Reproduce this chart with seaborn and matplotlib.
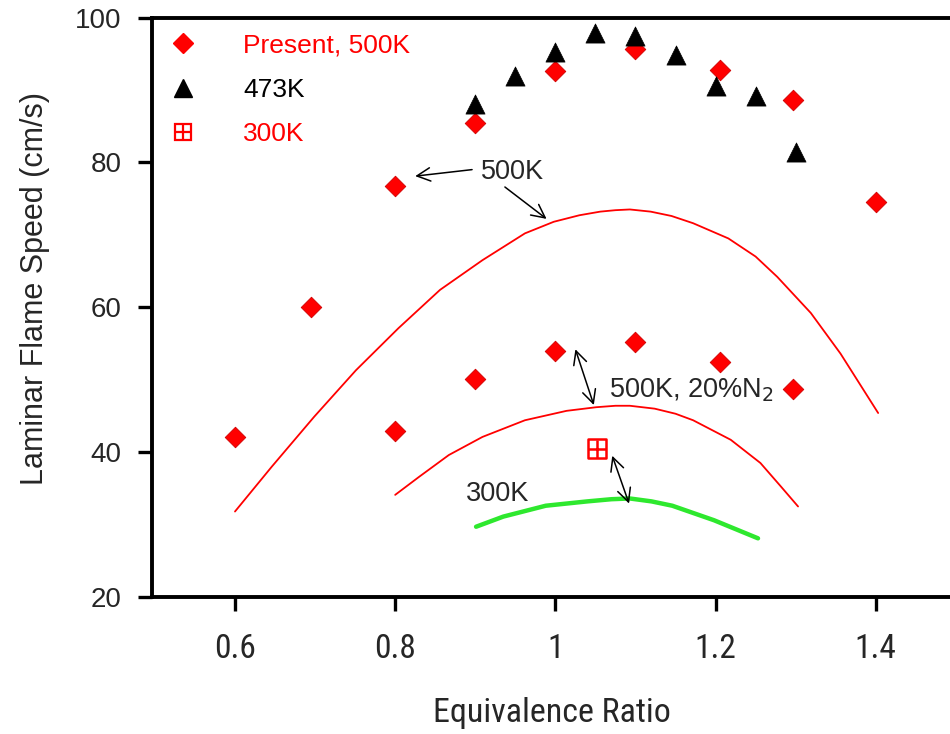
import matplotlib
matplotlib.use("Agg")
import matplotlib.pyplot as plt
from matplotlib import font_manager
from matplotlib.font_manager import FontProperties
from matplotlib.lines import Line2D
from matplotlib.legend_handler import HandlerTuple
import pandas as pd
import seaborn as sns

# ---- measured flame speeds ----
present_phi = [0.6, 0.695, 0.8, 0.8, 0.9, 0.9, 1.0, 1.0, 1.1, 1.1, 1.205, 1.205, 1.297, 1.297, 1.4]
present_su = [42.1, 60.0, 76.8, 42.9, 85.5, 50.1, 92.6, 53.9, 95.6, 55.2, 92.8, 52.5, 88.6, 48.7, 74.5]

t473_phi = [0.9, 0.95, 1.0, 1.05, 1.1, 1.15, 1.2, 1.25, 1.3]
t473_su = [88.1, 91.9, 95.3, 97.9, 97.4, 94.8, 90.6, 89.2, 81.5]

t300_phi = [1.052]
t300_su = [40.5]

# ---- computed curves ----
c500_phi = [0.600, 0.646, 0.699, 0.751, 0.804, 0.856, 0.909, 0.962, 0.998, 1.030, 1.056,
            1.075, 1.093, 1.119, 1.145, 1.172, 1.216, 1.250, 1.277, 1.319, 1.356, 1.403]
c500_su = [31.8, 38.0, 44.9, 51.3, 57.1, 62.4, 66.5, 70.2, 71.8, 72.7, 73.2,
           73.4, 73.5, 73.2, 72.6, 71.6, 69.5, 67.0, 64.2, 59.2, 53.6, 45.4]

c500n2_phi = [0.800, 0.830, 0.867, 0.909, 0.962, 1.014, 1.051, 1.075, 1.093, 1.124, 1.150,
              1.172, 1.219, 1.256, 1.282, 1.303]
c500n2_su = [34.1, 36.6, 39.6, 42.1, 44.4, 45.7, 46.2, 46.4, 46.4, 46.0, 45.3,
             44.4, 41.7, 38.5, 35.2, 32.5]

c300_phi = [0.901, 0.935, 0.988, 1.040, 1.070, 1.093, 1.120, 1.146, 1.198, 1.253]
c300_su = [29.7, 31.1, 32.6, 33.2, 33.5, 33.6, 33.2, 32.6, 30.6, 28.1]

x_ticks = [0.6, 0.8, 1.0, 1.2, 1.4]
x_tick_labels = ["0.6", "0.8", "1", "1.2", "1.4"]
y_ticks = [20, 40, 60, 80, 100]

legend_labels = ["Present, 500K", "473K", "300K"]

sns.set_style("ticks")

available = {f.name for f in font_manager.fontManager.ttflist}
main_font = "Liberation Sans" if "Liberation Sans" in available else "DejaVu Sans"
plt.rcParams["font.family"] = [main_font, "DejaVu Sans"]

# a condensed face for the x axis, if one is installed
narrow_fp = None
for pref in ["Liberation Sans Narrow", "Arial Narrow", "Roboto Condensed", "Open Sans Condensed"]:
    for f in font_manager.fontManager.ttflist:
        if f.name == pref and f.weight in (400, "normal", "regular") and f.style == "normal":
            narrow_fp = f.fname
            break
    if narrow_fp:
        break
if narrow_fp is None:
    for f in font_manager.fontManager.ttflist:
        if (f.name in ("Liberation Sans", "Roboto", "Open Sans", "Noto Sans")
                and str(f.stretch) in ("condensed", "semi-condensed", "75", "87.5")
                and f.style == "normal" and f.weight in (400, "normal", "regular")):
            narrow_fp = f.fname
            break

if narrow_fp:
    xtick_fp = FontProperties(fname=narrow_fp, size=24)
    xlabel_fp = FontProperties(fname=narrow_fp, size=24.5)
else:
    xtick_fp = FontProperties(family=[main_font], size=21)
    xlabel_fp = FontProperties(family=[main_font], size=22.5)

RED = "#ff0000"
GREEN = "#2ee82e"

fig = plt.figure(figsize=(9.5, 7.34), dpi=100)
ax = fig.add_axes([152 / 950, 1 - 597 / 734, 800 / 950, (597 - 17.5) / 734])

df_present = pd.DataFrame({"phi": present_phi, "su": present_su})
df_473 = pd.DataFrame({"phi": t473_phi, "su": t473_su})
df_300 = pd.DataFrame({"phi": t300_phi, "su": t300_su})

sns.lineplot(x=c500_phi, y=c500_su, ax=ax, color=RED, lw=1.3, sort=False, estimator=None)
sns.lineplot(x=c500n2_phi, y=c500n2_su, ax=ax, color=RED, lw=1.3, sort=False, estimator=None)
sns.lineplot(x=c300_phi, y=c300_su, ax=ax, color=GREEN, lw=3.2, sort=False, estimator=None)

sns.scatterplot(data=df_present, x="phi", y="su", ax=ax, marker="D", s=110,
                color=RED, edgecolor="#d00000", linewidth=0.6, zorder=5)
sns.scatterplot(data=df_473, x="phi", y="su", ax=ax, marker="^", s=190,
                color="black", edgecolor="black", linewidth=0.5, zorder=5)
sns.scatterplot(data=df_300, x="phi", y="su", ax=ax, marker="s", s=170,
                facecolor="none", edgecolor=RED, linewidth=1.8, zorder=5)
sns.scatterplot(data=df_300, x="phi", y="su", ax=ax, marker="+", s=170,
                color=RED, linewidth=1.8, zorder=5)

ax.set_xlim(0.4964, 1.4952)
ax.set_ylim(20, 100)
ax.set_xticks(x_ticks)
ax.set_xticklabels(x_tick_labels, fontproperties=xtick_fp)
ax.set_yticks(y_ticks)
ax.set_yticklabels([str(v) for v in y_ticks], fontsize=20)
ax.set_xlabel("Equivalence Ratio", fontproperties=xlabel_fp)
ax.set_ylabel("Laminar Flame Speed (cm/s)", fontsize=22)
ax.xaxis.set_label_coords(0.5, -0.172)
ax.yaxis.set_label_coords(-0.128, 0.533)

for side in ["left", "top", "bottom"]:
    ax.spines[side].set_linewidth(2.8)
    ax.spines[side].set_color("black")
ax.spines["right"].set_visible(False)
ax.tick_params(axis="both", direction="out", length=10, width=2.4, color="black")
ax.tick_params(axis="y", pad=12)
ax.tick_params(axis="x", pad=16)

# annotations
arrow = dict(arrowstyle="->", color="black", lw=1.1, mutation_scale=24,
             shrinkA=0, shrinkB=0)
darrow = dict(arrowstyle="<->", color="black", lw=1.1, mutation_scale=24,
              shrinkA=0, shrinkB=0)
ax.text(0.907, 78.7, "500K", fontsize=19.5, va="center", ha="left")
ax.annotate("", xy=(0.825, 78.1), xytext=(0.896, 79.0), arrowprops=arrow)
ax.annotate("", xy=(0.989, 72.2), xytext=(0.937, 76.6), arrowprops=arrow)

ax.text(1.067, 47.6, "500K, 20%N$_2$", fontsize=19.5, va="baseline", ha="left")
ax.annotate("", xy=(1.048, 46.5), xytext=(1.025, 54.2), arrowprops=darrow)

ax.text(0.888, 33.2, "300K", fontsize=19.5, va="baseline", ha="left")
ax.annotate("", xy=(1.092, 32.9), xytext=(1.071, 39.5), arrowprops=darrow)

# legend
h_present = Line2D([], [], marker="D", ls="none", color=RED, markersize=10)
h_473 = Line2D([], [], marker="^", ls="none", color="black", markersize=13)
h_300a = Line2D([], [], marker="s", ls="none", markerfacecolor="none",
                markeredgecolor=RED, markeredgewidth=1.6, markersize=12)
h_300b = Line2D([], [], marker="+", ls="none", color=RED, markeredgewidth=1.6,
                markersize=12)
ax.legend([h_present, h_473, (h_300a, h_300b)], legend_labels,
          handler_map={tuple: HandlerTuple(ndivide=1)},
          loc="upper left", bbox_to_anchor=(0.0, 1.0), frameon=False,
          fontsize=19, labelcolor=[RED, "black", RED], handlelength=1.15,
          handletextpad=1.7, labelspacing=0.78, borderpad=0.3, borderaxespad=0.3)

fig.savefig("out.png", dpi=100)
